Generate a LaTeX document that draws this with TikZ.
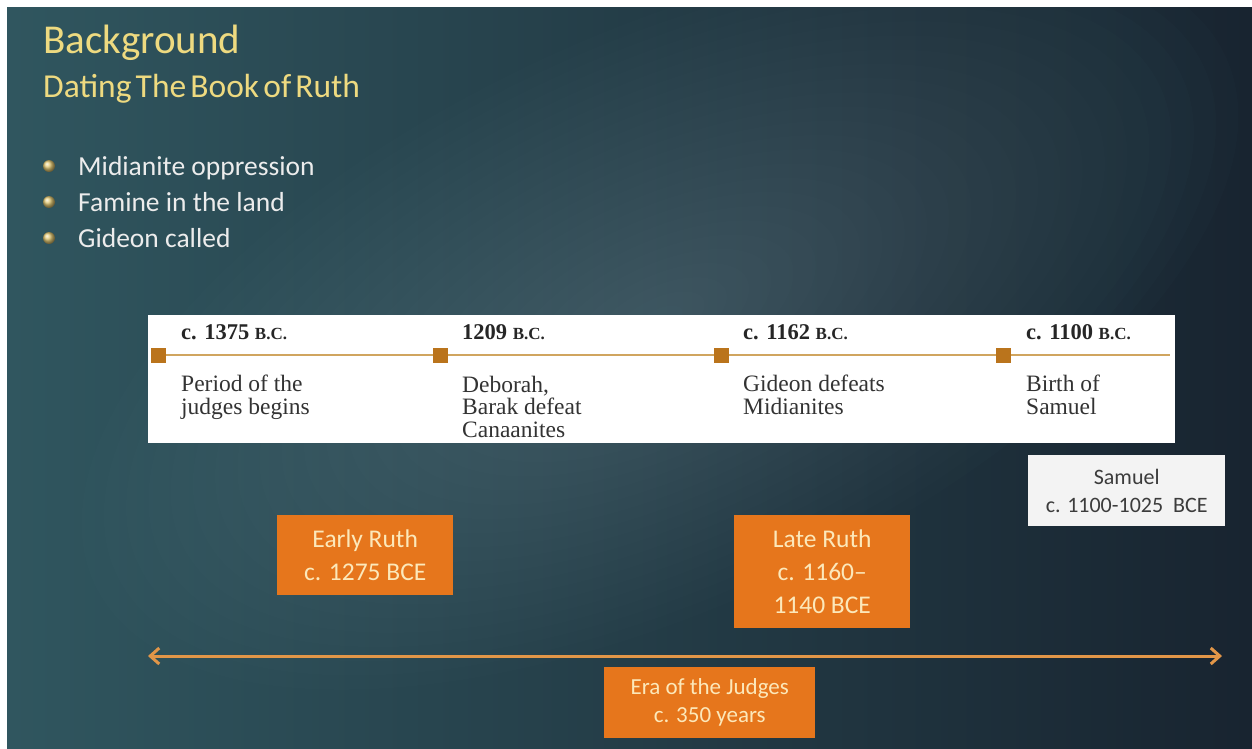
\documentclass[tikz,border=0pt]{standalone}
\usepackage{fontspec}
\newfontfamily\slidefont[Ligatures=TeX]{Carlito}
\newfontfamily\subfont[WordSpace=0.55]{Carlito}
\newfontfamily\tlfont[Ligatures=TeX]{Liberation Serif}
\usetikzlibrary{arrows.meta}
\definecolor{bgteal}{RGB}{48,86,95}
\definecolor{bgdark}{RGB}{24,36,48}
\definecolor{bgglow}{RGB}{110,150,160}
\definecolor{titlegold}{RGB}{238,218,128}
\definecolor{bullettext}{RGB}{236,236,236}
\definecolor{tlgold}{RGB}{208,165,95}
\definecolor{tltick}{RGB}{186,116,28}
\definecolor{ruthorange}{RGB}{230,118,28}
\definecolor{ruthtext}{RGB}{252,232,186}
\definecolor{samfill}{RGB}{243,243,243}
\definecolor{samtext}{RGB}{60,60,60}
\definecolor{arrowgold}{RGB}{226,150,72}
\newcommand{\bc}{{\fontsize{17}{17}\selectfont B.C.}}

\begin{document}
\begin{tikzpicture}[x=1pt,y=-1pt,
    head/.style={anchor=base west, text=titlegold, inner sep=0pt},
    item/.style={anchor=base west, text=bullettext, inner sep=0pt, font=\slidefont\fontsize{27.5}{32}\selectfont},
    dot/.style={circle, inner sep=0pt, minimum size=12pt, shade, ball color=titlegold!85!brown},
    date/.style={anchor=base west, inner sep=0pt, font=\tlfont\bfseries\fontsize{22.5}{24}\selectfont, text=black!85},
    event/.style={anchor=base west, inner sep=0pt, align=left, font=\tlfont\fontsize{23.5}{22.5}\selectfont, text=black!80},
    tick/.style={rectangle, fill=tltick, minimum size=15pt, inner sep=0pt},
    ruth/.style={fill=ruthorange, text=ruthtext, align=center, anchor=north west, inner sep=0pt, minimum width=176pt, font=\slidefont\fontsize{25.5}{33}\selectfont}]
  % background
  \useasboundingbox (0,0) rectangle (1252,748);
  \fill[white] (0,0) rectangle (1252,748);
  \shade[left color=bgteal, right color=bgdark] (7,7) rectangle (1252,748);
  \begin{scope}
    \clip (7,7) rectangle (1252,748);
    \foreach \s in {1,...,26}
      \fill[bgglow, fill opacity=0.018, rotate around={25:(660,320)}] (660,320) ellipse ({24*\s} and {11*\s});
  \end{scope}
  % heading
  \node[head, font=\slidefont\fontsize{41}{44}\selectfont] (title) at (43,53) {Background};
  \node[head, font=\subfont\fontsize{33.5}{36}\selectfont] (sub) at (43,97) {Dating The Book of Ruth};
  \node[item] (i1) at (78,175) {Midianite oppression};
  \node[item] (i2) at (78,211) {Famine in the land};
  \node[item] (i3) at (78,247) {Gideon called};
  \node[dot] (d1) at (49,166) {};
  \node[dot] (d2) at (49,202) {};
  \node[dot] (d3) at (49,238) {};
  % timeline
  \node[fill=white, anchor=north west, inner sep=0pt, minimum width=1027pt, minimum height=128pt] (tl) at (148,315) {};
  \coordinate (ls) at (158,355);
  \coordinate (le) at (1170,355);
  \draw[tlgold, line width=2.5pt] (ls) -- (le);
  \node[tick] (t1) at (158,355) {};
  \node[tick] (t2) at (440,355) {};
  \node[tick] (t3) at (721,355) {};
  \node[tick] (t4) at (1003,355) {};
  \node[date] (y1) at (181,339) {c. 1375 \bc};
  \node[date] (y2) at (462,339) {1209 \bc};
  \node[date] (y3) at (743,339) {c. 1162 \bc};
  \node[date] (y4) at (1026,339) {c. 1100 \bc};
  \node[event] (e1) at (181,414) {Period of the\\judges begins};
  \node[event] (e2) at (462,437) {Deborah,\\Barak defeat\\Canaanites};
  \node[event] (e3) at (743,414) {Gideon defeats\\Midianites};
  \node[event] (e4) at (1026,414) {Birth of\\Samuel};
  % dating boxes
  \node[fill=samfill, text=samtext, align=center, anchor=north west, inner sep=0pt, minimum width=197pt, minimum height=71pt, font=\slidefont\fontsize{22}{28}\selectfont] (sam) at (1028,455) {Samuel\\c. 1100-1025~ BCE};
  \node[ruth, minimum height=80pt] (early) at (277,515) {Early Ruth\\c. 1275 BCE};
  \node[ruth, minimum height=113pt] (late) at (734,515) {Late Ruth\\c. 1160–\\1140 BCE};
  % era arrow
  \coordinate (al) at (148,656);
  \coordinate (ar) at (1222,656);
  \draw[arrowgold, line width=3pt, {Straight Barb[length=9pt,width=16pt]}-{Straight Barb[length=9pt,width=16pt]}] (al) -- (ar);
  \node[ruth, minimum width=211pt, minimum height=71pt, font=\slidefont\fontsize{23}{28}\selectfont] (era) at (604,667) {Era of the Judges\\c. 350 years};
\end{tikzpicture}
\end{document}
